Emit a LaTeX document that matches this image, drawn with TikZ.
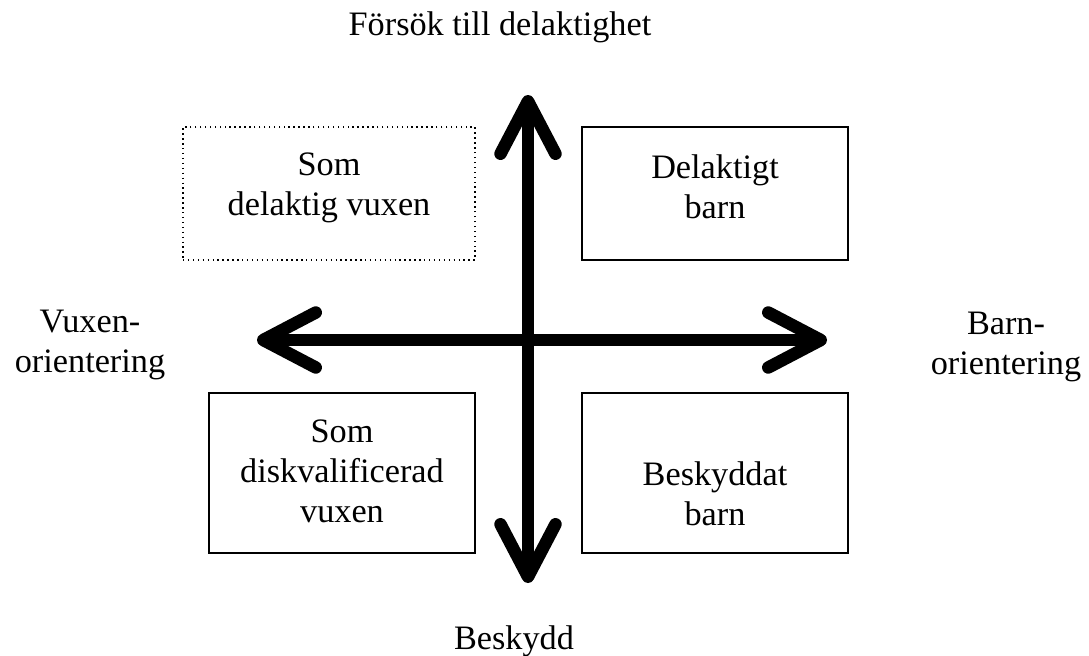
\documentclass[tikz,border=0pt]{standalone}
\usepackage{fontspec}
\setmainfont{Liberation Serif}
\usepackage{tikz}
\usetikzlibrary{arrows.meta}

\tikzset{
    quad/.style={draw, line width=0.8pt, inner sep=0},
    axis/.style={line width=0.25cm, line cap=round,
        {Straight Barb[length=1.05cm, width=1.1cm, line cap=round, line join=round]}-{Straight Barb[length=1.05cm, width=1.1cm, line cap=round, line join=round]}},
    lbl/.style={align=center, inner sep=0}
}

\begin{document}
\begin{tikzpicture}[x=0.02cm, y=-0.02cm, font=\fontsize{19.5}{22.7}\selectfont]
    \useasboundingbox (0, 0) rectangle (1089, 656);

    % Quadrants
    \node[quad, dotted, minimum width=5.84cm, minimum height=2.66cm] (partadult) at (329, 193.5) {};
    \node[quad, minimum width=5.32cm, minimum height=2.66cm] (partchild) at (715, 193.5) {};
    \node[quad, minimum width=5.32cm, minimum height=3.2cm] (disqadult) at (342, 473) {};
    \node[quad, minimum width=5.32cm, minimum height=3.2cm] (protchild) at (715, 473) {};

    % Quadrant texts
    \node[lbl] (partadult-txt) at (329, 187.5) {Som\\delaktig vuxen};
    \node[lbl] (partchild-txt) at (715, 186.5) {Delaktigt\\barn};
    \node[lbl] (disqadult-txt) at (342, 471) {Som\\diskvalificerad\\vuxen};
    \node[lbl] (protchild-txt) at (715, 494) {Beskyddat\\barn};

    % Axis ends
    \coordinate (top) at (528, 95);
    \coordinate (bottom) at (528, 583);
    \coordinate (left) at (257, 340);
    \coordinate (right) at (827, 340);

    % Axis labels
    \node[lbl, anchor=base] (participation) at (500, 35) {Försök till delaktighet};
    \node[lbl, anchor=base] (protection) at (514, 649) {Beskydd};
    \node[lbl] (adultorient) at (90, 345) {Vuxen-\\orientering};
    \node[lbl] (childorient) at (1006, 347) {Barn-\\orientering};

    % Axes
    \draw[axis] (left) -- (right);
    \draw[axis] (bottom) -- (top);

\end{tikzpicture}
\end{document}
